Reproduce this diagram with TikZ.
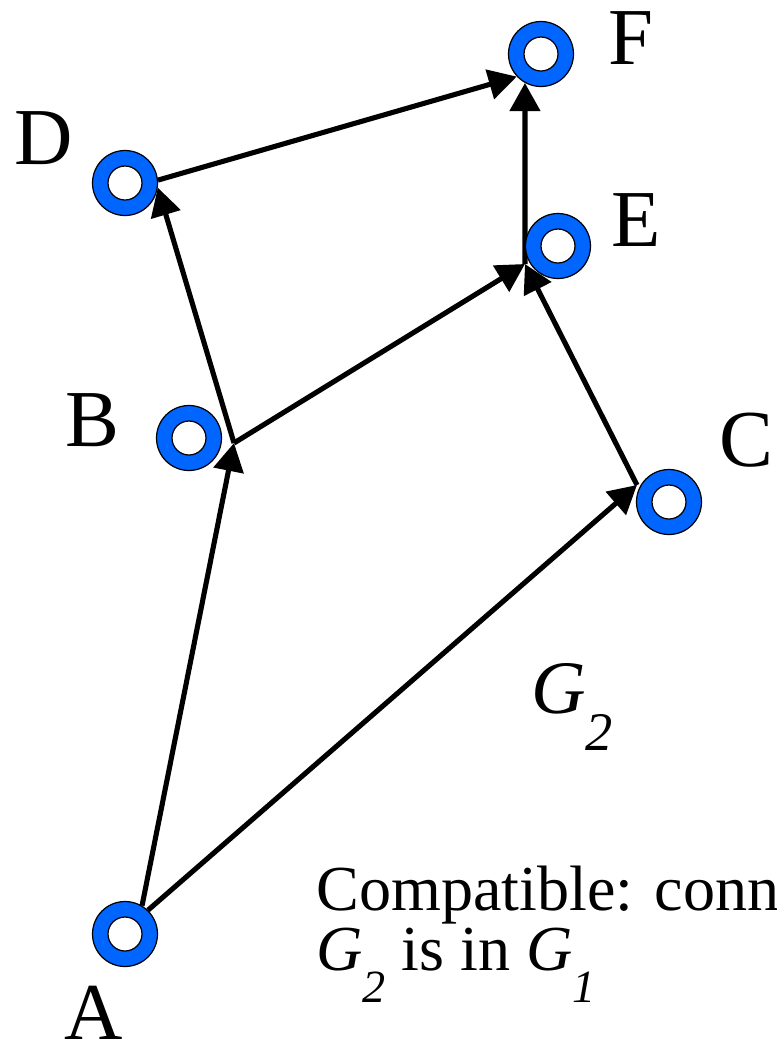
\documentclass[tikz,border=0pt]{standalone}
\usepackage{fontspec}
\setmainfont{Liberation Serif}
\usetikzlibrary{arrows.meta, backgrounds}
\definecolor{ringblue}{HTML}{0066FF}
\tikzset{
  vtx/.style={circle, draw=black, line width=0.7pt, fill=ringblue,
              minimum size=1.3cm, inner sep=0pt,
              path picture={\draw[line width=0.7pt, fill=white]
                (path picture bounding box.center) circle (0.34cm);}},
  vlbl/.style={font=\fontsize{46}{50}\selectfont, inner sep=0pt},
  note/.style={font=\fontsize{36.5}{42}\selectfont, inner sep=0pt, anchor=base west},
  edge/.style={-{Triangle[length=16pt, width=17pt]}, line width=2.9pt},
}
\newcommand{\gsub}[1]{\textit{G}\raisebox{-0.5em}{\scalebox{0.72}{\textit{#1}}}}

\begin{document}
\begin{tikzpicture}[x=0.02cm, y=-0.02cm]
  \useasboundingbox (0,0) rectangle (777,1049);
  % vertices
  \node[vtx] (F) at (541,54)  {};
  \node[vtx] (D) at (125,183) {};
  \node[vtx] (E) at (558,246) {};
  \node[vtx] (B) at (189,438) {};
  \node[vtx] (C) at (669,502) {};
  \node[vtx] (A) at (125,934) {};
  % labels
  \node[vlbl] (lF) at (631,38)   {F};
  \node[vlbl] (lD) at (44,138)   {D};
  \node[vlbl] (lE) at (636,220)  {E};
  \node[vlbl] (lB) at (92,420)   {B};
  \node[vlbl] (lC) at (746,440)  {C};
  \node[vlbl] (lA) at (94,1013)  {A};
  \node[vlbl, font=\fontsize{43}{48}\selectfont, anchor=base west] (g2) at (531,713) {\gsub{2}};
  \node[note] (cmp)  at (316,910) {Compatible: conn};
  \node[note] (incl) at (316,970) {\gsub{2} is in \gsub{1}};
  % junctions beside the rings
  \coordinate (bj) at (234,443);
  \coordinate (ej) at (525,264);
  \coordinate (cj) at (637,485);
  \begin{scope}[on background layer]
    \draw[edge] (A.59) -- (bj);
    \draw[edge] (A.46) -- (cj);
    \draw[edge] (bj) -- (D.-8);
    \draw[edge] (bj) -- (ej);
    \draw[edge] (cj) -- (ej);
    \draw[edge] (ej) -- (F.241);
    \draw[edge] (D.5) -- (F.223);
  \end{scope}
\end{tikzpicture}
\end{document}
